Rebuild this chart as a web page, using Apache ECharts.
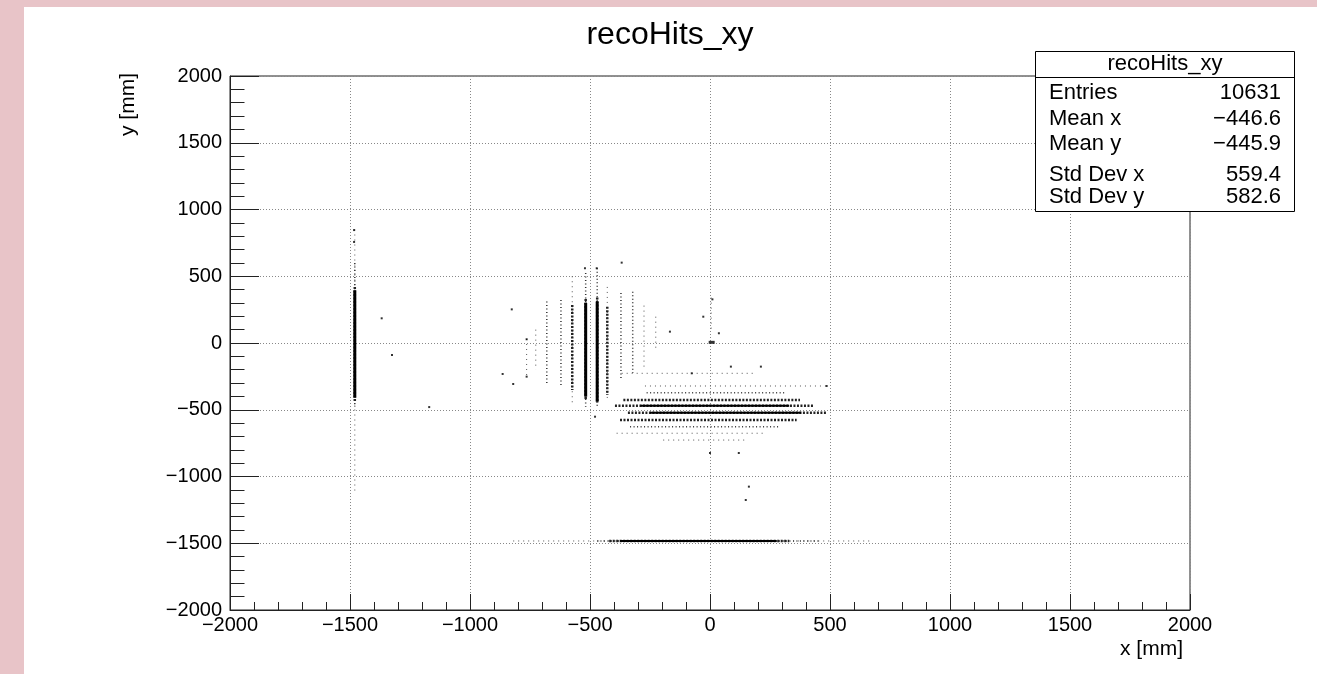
<!DOCTYPE html>
<html lang="en">
<head>
<meta charset="utf-8">
<title>recoHits_xy</title>
<script src="https://cdn.jsdelivr.net/npm/echarts@6/dist/echarts.min.js"></script>
<style>
    html, body { width: 100%; height: 100%; margin: 0; padding: 0; overflow: hidden; background: #e8c4c8; }
    #pad { position: absolute; left: 24px; top: 7px; right: 0; bottom: 0; background: #fff; }
    #main { position: absolute; left: 0; top: 0; width: 1317px; height: 674px; }
</style>
</head>
<body>
<div id="pad"></div>
<div id="main"></div>
<script>
// hit bands
// vertical bands: [x, yLow, yHigh, density]  density 0 = sparse ... 3 = dense
var vBands = [
    [-1480, -1130, 850, 0],
    [-1480, -480, 600, 1],
    [-1480, -440, 420, 2],
    [-1480, -410, 395, 3],
    [-764, -260, 30, 0],
    [-726, -200, 100, 0],
    [-680, -300, 310, 1],
    [-621, -315, 322, 1],
    [-574, -450, 500, 0],
    [-574, -352, 285, 2],
    [-518, -477, 524, 1],
    [-518, -420, 330, 2],
    [-518, -402, 300, 3],
    [-470, -477, 560, 1],
    [-470, -450, 340, 2],
    [-470, -440, 310, 3],
    [-428, -420, 420, 0],
    [-428, -390, 272, 2],
    [-371, -277, 374, 1],
    [-322, -225, 384, 1],
    [-275, -200, 280, 0],
    [-226, -60, 197, 0],
    [5, 80, 340, 0]
];
// horizontal bands: [y, xLow, xHigh, density]
var hBands = [
    [-227, -368, 194, 0],
    [-322, -271, 486, 0],
    [-372, -264, 319, 1],
    [-427, -361, 375, 2],
    [-470, -396, 430, 2],
    [-470, -290, 330, 3],
    [-522, -342, 486, 2],
    [-522, -250, 380, 3],
    [-577, -375, 361, 2],
    [-627, -333, 292, 1],
    [-676, -389, 236, 0],
    [-727, -195, 153, 0],
    [-1483, -820, 670, 0],
    [-1483, -471, 458, 1],
    [-1483, -420, 330, 2],
    [-1483, -375, 278, 3]
];
// isolated hits
var loneHits = [
    [-1368, 185], [-1325, -90], [-1170, -480], [-1483, 757], [-1483, 846],
    [-826, 252], [-764, 28], [-820, -307], [-864, -232], [-764, -252],
    [-368, 602], [-472, 560], [-521, 560], [-167, 85], [-76, -227], [-479, -552],
    [10, 327], [-28, 197], [37, 73], [87, -177], [212, -177],
    [162, -1076], [149, -1176], [486, -322], [0, -824], [120, -824]
];
var hotSpot = [[7, 5]];

var statNames = ['Entries', 'Mean x', 'Mean y', 'Std Dev x', 'Std Dev y'];
var statValues = ['10631', '\u2212446.6', '\u2212445.9', '559.4', '582.6'];
var statRowY = [93, 119, 143.5, 174.5, 196.5];

var levelStyle = [
    {color: '#555', width: 1, dash: [1, 4]},
    {color: '#333', width: 1.5, dash: [1, 2.5]},
    {color: '#222', width: 2.5, dash: [2, 1.5]}
];

function bandRenderer(vertical) {
    return function (params, api) {
        var c = api.value(0), a = api.value(1), b = api.value(2), level = api.value(3);
        var p1 = vertical ? api.coord([c, b]) : api.coord([a, c]);
        var p2 = vertical ? api.coord([c, a]) : api.coord([b, c]);
        if (level === 3) {
            var w = vertical ? 3 : 2;
            return {
                type: 'rect',
                shape: vertical
                    ? {x: p1[0] - w / 2, y: p1[1], width: w, height: p2[1] - p1[1]}
                    : {x: p1[0], y: p1[1] - w / 2, width: p2[0] - p1[0], height: w},
                style: {fill: '#000'}
            };
        }
        var st = levelStyle[level];
        return {
            type: 'line',
            shape: {x1: p1[0], y1: p1[1], x2: p2[0], y2: p2[1]},
            style: {stroke: st.color, lineWidth: st.width, lineDash: st.dash}
        };
    };
}

function minus(v) { return String(v).replace('-', '\u2212'); }

var font = 'Liberation Sans, Arial, Helvetica, sans-serif';
var chart = echarts.init(document.getElementById('main'), null, {renderer: 'canvas'});

var graphics = [
    {type: 'text', x: 670, y: 35, style: {text: 'recoHits_xy', font: '32px ' + font, fill: '#000',
        textAlign: 'center', textVerticalAlign: 'middle', align: 'center', verticalAlign: 'middle'}},
    {type: 'text', x: 1183, y: 649, style: {text: 'x [mm]', font: '21px ' + font, fill: '#000',
        textAlign: 'right', textVerticalAlign: 'middle', align: 'right', verticalAlign: 'middle'}},
    {type: 'text', x: 128, y: 73, rotation: Math.PI / 2, style: {text: 'y [mm]', font: '21px ' + font, fill: '#000',
        textAlign: 'right', textVerticalAlign: 'middle', align: 'right', verticalAlign: 'middle'}},
    {type: 'rect', z: 100, shape: {x: 1035.5, y: 51.5, width: 259, height: 160},
        style: {fill: '#fff', stroke: '#000', lineWidth: 1}},
    {type: 'line', z: 101, shape: {x1: 1035.5, y1: 77.5, x2: 1294.5, y2: 77.5},
        style: {stroke: '#000', lineWidth: 1}},
    {type: 'text', z: 101, x: 1165, y: 64, style: {text: 'recoHits_xy', font: '22px ' + font, fill: '#000',
        textAlign: 'center', textVerticalAlign: 'middle', align: 'center', verticalAlign: 'middle'}}
];
for (var i = 0; i < statNames.length; i++) {
    graphics.push({type: 'text', z: 101, x: 1049, y: statRowY[i], style: {text: statNames[i], font: '22px ' + font,
        fill: '#000', textAlign: 'left', textVerticalAlign: 'middle', align: 'left', verticalAlign: 'middle'}});
    graphics.push({type: 'text', z: 101, x: 1281, y: statRowY[i], style: {text: statValues[i], font: '22px ' + font,
        fill: '#000', textAlign: 'right', textVerticalAlign: 'middle', align: 'right', verticalAlign: 'middle'}});
}

var axisCommon = {
    type: 'value',
    min: -2000,
    max: 2000,
    interval: 500,
    axisLine: {show: true, onZero: false, lineStyle: {color: '#222', width: 1}},
    axisLabel: {color: '#000', fontFamily: font, fontSize: 20, formatter: minus},
    splitLine: {show: true, lineStyle: {color: '#888', width: 1, type: [1, 2]}}
};

chart.setOption({
    backgroundColor: 'transparent',
    animation: false,
    grid: {left: 230, top: 76, width: 960, height: 534, show: true, borderColor: '#222', borderWidth: 1,
        backgroundColor: 'transparent'},
    xAxis: Object.assign({}, axisCommon, {
        axisTick: {show: true, inside: true, length: 16, lineStyle: {color: '#222'}},
        minorTick: {show: true, splitNumber: 5, length: 8, lineStyle: {color: '#222'}},
        axisLabel: Object.assign({}, axisCommon.axisLabel, {margin: 5})
    }),
    yAxis: Object.assign({}, axisCommon, {
        axisTick: {show: true, inside: true, length: 29, lineStyle: {color: '#222'}},
        minorTick: {show: true, splitNumber: 5, length: 14.5, lineStyle: {color: '#222'}},
        axisLabel: Object.assign({}, axisCommon.axisLabel, {margin: 8})
    }),
    graphic: graphics,
    series: [
        {type: 'custom', renderItem: bandRenderer(true), data: vBands, encode: {x: 0, y: [1, 2]}, clip: true, silent: true},
        {type: 'custom', renderItem: bandRenderer(false), data: hBands, encode: {x: [1, 2], y: 0}, clip: true, silent: true},
        {type: 'scatter', data: loneHits, symbol: 'rect', symbolSize: 2, itemStyle: {color: '#000'}, silent: true},
        {type: 'scatter', data: hotSpot, symbol: 'rect', symbolSize: [6, 3], itemStyle: {color: '#000'}, silent: true}
    ]
});
</script>
</body>
</html>
